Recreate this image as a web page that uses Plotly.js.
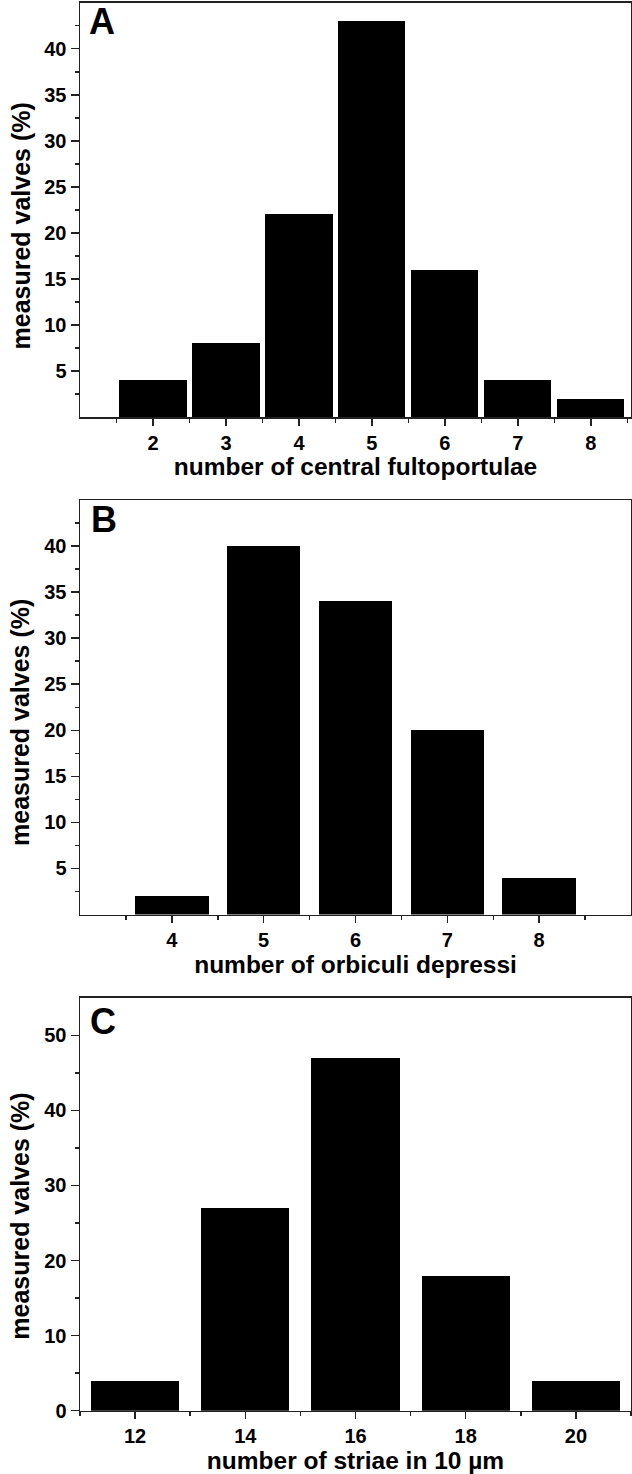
<!DOCTYPE html>
<html>
<head>
<meta charset="utf-8">
<script src="https://cdn.plot.ly/plotly-3.0.1.min.js"></script>
<style>html,body{margin:0;padding:0;background:#fff}#chart{width:632px;height:1474px}</style>
</head>
<body>
<div id="chart"></div>
<script>
// Panel A: number of central fultoportulae
var catsA = [2, 3, 4, 5, 6, 7, 8];
var valsA = [4, 8, 22, 43, 16, 4, 2];
// Panel B: number of orbiculi depressi
var catsB = [4, 5, 6, 7, 8];
var valsB = [2, 40, 34, 20, 4];
// Panel C: number of striae in 10 µm
var catsC = [12, 14, 16, 18, 20];
var valsC = [4, 27, 47, 18, 4];

var yTicksAB = [5, 10, 15, 20, 25, 30, 35, 40];
var yMinorAB = [2.5, 7.5, 12.5, 17.5, 22.5, 27.5, 32.5, 37.5, 42.5];
var yTicksC = [0, 10, 20, 30, 40, 50];
var yMinorC = [5, 15, 25, 35, 45];
var xMinorA = [1.5, 2.5, 3.5, 4.5, 5.5, 6.5, 7.5, 8.5];
var xMinorB = [3.5, 4.5, 5.5, 6.5, 7.5, 8.5];
var xMinorC = [11, 13, 15, 17, 19, 21];

var xTitleA = 'number of central fultoportulae';
var xTitleB = 'number of orbiculi depressi';
var xTitleC = 'number of striae in 10 \u00b5m';
var yTitle = 'measured valves (%)';
var panelLetters = ['A', 'B', 'C'];

var W = 632, H = 1474;
var FONT = 'Liberation Sans, Arial, Helvetica, sans-serif';
var AXC = '#222';

function px(x) { return x / W; }
function py(y) { return 1 - y / H; }

var plotL = 80, plotR = 631;
var panels = [
  {top: 2.7, bot: 417},
  {top: 500, bot: 914.5},
  {top: 997.7, bot: 1410.7}
];

function bar(x, y, w, xa, ya) {
  return {type: 'bar', x: x, y: y, width: w, xaxis: xa, yaxis: ya,
    marker: {color: '#000', line: {width: 0}}, showlegend: false, hoverinfo: 'x+y'};
}

var data = [
  bar(catsA, valsA, 0.92, 'x', 'y'),
  bar(catsB, valsB, 0.8, 'x2', 'y2'),
  bar(catsC, valsC, 1.6, 'x3', 'y3')
];

function xaxis(range, tickvals, minorvals, title, anchor, standoff) {
  return {
    domain: [px(plotL), px(plotR)], anchor: anchor, range: range,
    tickmode: 'array', tickvals: tickvals, ticktext: tickvals.map(String),
    ticks: 'outside', ticklen: 7, tickwidth: 1.5, tickcolor: AXC,
    minor: {tickmode: 'array', tickvals: minorvals, ticks: 'outside', ticklen: 4, tickwidth: 1.5, tickcolor: AXC, showgrid: false},
    showline: true, linecolor: AXC, linewidth: 1.5, mirror: true,
    showgrid: false, zeroline: false, automargin: false, fixedrange: true,
    tickfont: {family: FONT, size: 20, color: '#000', weight: 700},
    title: {text: title, standoff: standoff, font: {family: FONT, size: 24.5, color: '#000', weight: 700}}
  };
}
function yaxis(p, range, tickvals, minorvals, anchor) {
  return {
    domain: [py(p.bot), py(p.top)], anchor: anchor, range: range,
    tickmode: 'array', tickvals: tickvals, ticktext: tickvals.map(String),
    ticks: 'outside', ticklen: 8, tickwidth: 1.5, tickcolor: AXC,
    minor: {tickmode: 'array', tickvals: minorvals, ticks: 'outside', ticklen: 4, tickwidth: 1.5, tickcolor: AXC, showgrid: false},
    showline: true, linecolor: AXC, linewidth: 1.5, mirror: true,
    showgrid: false, zeroline: false, automargin: false, fixedrange: true,
    tickfont: {family: FONT, size: 20, color: '#000', weight: 700}
  };
}

var annotations = [];
var yTitleCenters = [226.5, 723, 1216.7];
var letterPos = [{x: 87, y: 21.5}, {x: 89, y: 519}, {x: 88, y: 1021}];
for (var i = 0; i < 3; i++) {
  annotations.push({
    xref: 'paper', yref: 'paper', x: px(20), y: py(yTitleCenters[i]),
    xanchor: 'center', yanchor: 'middle', textangle: -90, showarrow: false,
    text: yTitle, font: {family: FONT, size: 25, color: '#000', weight: 700}
  });
  annotations.push({
    xref: 'paper', yref: 'paper', x: px(letterPos[i].x), y: py(letterPos[i].y),
    xanchor: 'left', yanchor: 'middle', showarrow: false,
    text: panelLetters[i], font: {family: FONT, size: 36, color: '#000', weight: 700}
  });
}

var layout = {
  width: W, height: H,
  margin: {l: 0, r: 0, t: 0, b: 0},
  paper_bgcolor: '#fff', plot_bgcolor: '#fff',
  showlegend: false, bargap: 0,
  xaxis: xaxis([1, 8.55], catsA, xMinorA, xTitleA, 'y', 2),
  yaxis: yaxis(panels[0], [0, 45], yTicksAB, yMinorAB, 'x'),
  xaxis2: xaxis([3, 9], catsB, xMinorB, xTitleB, 'y2', 2),
  yaxis2: yaxis(panels[1], [0, 45], yTicksAB, yMinorAB, 'x2'),
  xaxis3: xaxis([11, 21], catsC, xMinorC, xTitleC, 'y3', 2),
  yaxis3: yaxis(panels[2], [0, 55], yTicksC, yMinorC, 'x3'),
  annotations: annotations
};

Plotly.newPlot('chart', data, layout, {staticPlot: true, displayModeBar: false});
</script>
</body>
</html>
